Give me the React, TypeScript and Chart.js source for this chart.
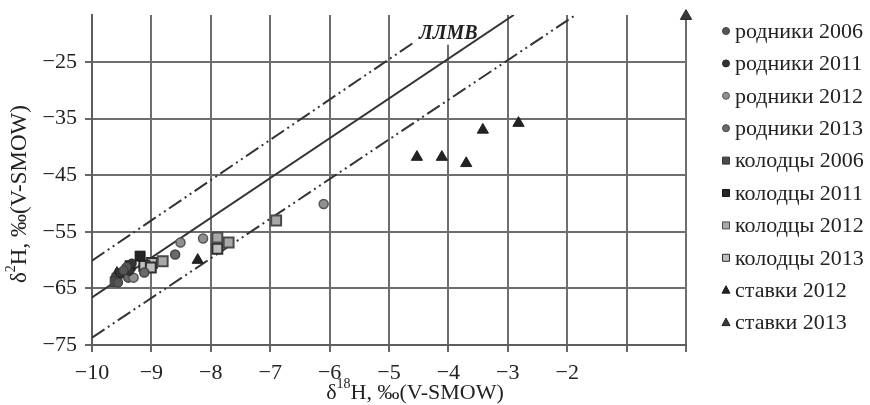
import React, { useEffect, useRef } from 'react';
import { Chart, registerables } from 'chart.js';
Chart.register(...registerables);

// ---- data (δ18O, δ2H) ----
const seriesNames = [
  'родники 2006', 'родники 2011', 'родники 2012', 'родники 2013',
  'колодцы 2006', 'колодцы 2011', 'колодцы 2012', 'колодцы 2013',
  'ставки 2012', 'ставки 2013',
];
const rodniki2006X = [-9.42, -9.47, -9.56];
const rodniki2006Y = [-61.2, -61.8, -64.0];
const rodniki2011X = [-9.37, -9.53, -9.33];
const rodniki2011Y = [-61.9, -62.3, -60.6];
const rodniki2012X = [-8.51, -8.13, -6.1, -9.3];
const rodniki2012Y = [-56.9, -56.2, -50.1, -63.1];
const rodniki2013X = [-8.6, -9.12, -9.39];
const rodniki2013Y = [-59.0, -62.2, -63.1];
const kolodtsy2006X = [-9.58, -9.61];
const kolodtsy2006Y = [-63.2, -63.8];
const kolodtsy2011X = [-9.19, -9.36];
const kolodtsy2011Y = [-59.3, -61.0];
const kolodtsy2012X = [-6.9, -7.89, -7.7, -8.81];
const kolodtsy2012Y = [-53.0, -56.0, -56.9, -60.2];
const kolodtsy2013X = [-7.89, -8.99, -9.12, -9.01];
const kolodtsy2013Y = [-58.0, -60.5, -61.0, -61.3];
const stavki2012X = [-4.53, -4.11, -3.7, -3.42, -2.82, -8.22];
const stavki2012Y = [-41.8, -41.8, -42.9, -37.0, -35.8, -60.0];
const stavki2013X = [0, -9.58];
const stavki2013Y = [-16.9, -62.3];

// lines: local meteoric water line (ЛЛМВ) and its bounds
const lmwlX = [-10, -2.9];
const lmwlY = [-66.6, -16.7];
const upperX = [-10, -3.9];
const upperY = [-60.1, -16.7];
const lowerX = [-10, -1.86];
const lowerY = [-73.7, -16.7];

const xMin = -10;
const xMax = 0;
const yMin = -75;
const yMax = -16.7;
const yTicks = [-75, -65, -55, -45, -35, -25];
const xLabelMax = -2;
const lmwlLabel = 'ЛЛМВ';
const lmwlLabelAt = [-4.0, -20.0];

const FONT = "'Liberation Serif', 'Times New Roman', serif";

const pts = (xs: number[], ys: number[]) => xs.map((x, i) => ({ x, y: ys[i] }));
const fmt = (v: number) => (v < 0 ? '\u2212' + Math.abs(v) : String(v));

const styles = [
  { shape: 'circle', r: 4.5, fill: '#555555', border: '#3c3c3c', bw: 1 },
  { shape: 'circle', r: 4.5, fill: '#333333', border: '#222222', bw: 1 },
  { shape: 'circle', r: 4.5, fill: '#8f8f8f', border: '#555555', bw: 1.5 },
  { shape: 'circle', r: 4.5, fill: '#6a6a6a', border: '#444444', bw: 1.5 },
  { shape: 'rect', r: 7, fill: '#4a4a4a', border: '#383838', bw: 1 },
  { shape: 'rect', r: 7, fill: '#262626', border: '#151515', bw: 1 },
  { shape: 'rect', r: 7, fill: '#a8a8a8', border: '#4a4a4a', bw: 2 },
  { shape: 'rect', r: 7, fill: '#bdbdbd', border: '#2e2e2e', bw: 2 },
  { shape: 'triangle', r: 6.5, fill: '#222222', border: '#222222', bw: 1 },
  { shape: 'triangle', r: 6.5, fill: '#3a3a3a', border: '#222222', bw: 1 },
];

const seriesX = [rodniki2006X, rodniki2011X, rodniki2012X, rodniki2013X, kolodtsy2006X, kolodtsy2011X, kolodtsy2012X, kolodtsy2013X, stavki2012X, stavki2013X];
const seriesY = [rodniki2006Y, rodniki2011Y, rodniki2012Y, rodniki2013Y, kolodtsy2006Y, kolodtsy2011Y, kolodtsy2012Y, kolodtsy2013Y, stavki2012Y, stavki2013Y];

const UPPER_INDEX = 11;
const DASH = [15, 4, 2, 4, 2, 4];

function drawRich(ctx: CanvasRenderingContext2D, parts: { t: string; sup?: boolean }[], cx: number, cy: number, size: number) {
  const supSize = Math.round(size * 0.62);
  let total = 0;
  const widths = parts.map((p) => {
    ctx.font = `${p.sup ? supSize : size}px ${FONT}`;
    const w = ctx.measureText(p.t).width;
    total += w;
    return w;
  });
  let x = cx - total / 2;
  parts.forEach((p, i) => {
    ctx.font = `${p.sup ? supSize : size}px ${FONT}`;
    ctx.fillText(p.t, x, p.sup ? cy - size * 0.38 : cy);
    x += widths[i];
  });
}

const customPlugin = {
  id: 'customDecor',
  afterDatasetDraw(chart: any, args: any) {
    if (args.index !== UPPER_INDEX) return;
    const ctx: CanvasRenderingContext2D = chart.ctx;
    const xs = chart.scales.x;
    const ys = chart.scales.y;
    const px = xs.getPixelForValue(lmwlLabelAt[0]);
    const py = ys.getPixelForValue(lmwlLabelAt[1]);
    ctx.save();
    ctx.font = `italic bold 20px ${FONT}`;
    const w = ctx.measureText(lmwlLabel).width;
    ctx.fillStyle = '#ffffff';
    ctx.fillRect(px - w / 2 - 4, chart.chartArea.top - 1, w + 8, py - chart.chartArea.top + 12);
    ctx.fillStyle = '#222222';
    ctx.textAlign = 'center';
    ctx.textBaseline = 'middle';
    ctx.fillText(lmwlLabel, px, py);
    ctx.restore();
  },
  afterDraw(chart: any) {
    const ctx: CanvasRenderingContext2D = chart.ctx;
    const area = chart.chartArea;
    ctx.save();
    // legend
    const lx = area.right + 40;
    seriesNames.forEach((name, i) => {
      const y = 31 + i * 32.4;
      const s = styles[i];
      ctx.fillStyle = s.fill;
      ctx.strokeStyle = s.border;
      ctx.lineWidth = 1;
      ctx.beginPath();
      if (s.shape === 'circle') {
        ctx.arc(lx, y, 3.5, 0, Math.PI * 2);
      } else if (s.shape === 'rect') {
        ctx.rect(lx - 3.5, y - 3.5, 7, 7);
      } else {
        ctx.moveTo(lx, y - 4.5);
        ctx.lineTo(lx + 4, y + 3);
        ctx.lineTo(lx - 4, y + 3);
        ctx.closePath();
      }
      ctx.fill();
      ctx.stroke();
      ctx.fillStyle = '#222222';
      ctx.font = `22px ${FONT}`;
      ctx.textAlign = 'left';
      ctx.textBaseline = 'middle';
      ctx.fillText(name, lx + 9, y + 1);
    });
    // axis titles
    ctx.fillStyle = '#222222';
    ctx.textAlign = 'left';
    ctx.textBaseline = 'middle';
    drawRich(ctx, [{ t: 'δ' }, { t: '18', sup: true }, { t: 'H, ‰(V-SMOW)' }], 415, 393, 22);
    ctx.translate(20, 194);
    ctx.rotate(-Math.PI / 2);
    drawRich(ctx, [{ t: 'δ' }, { t: '2', sup: true }, { t: 'H, ‰(V-SMOW)' }], 0, 0, 23);
    ctx.restore();
  },
};

export default function App() {
  const ref = useRef<HTMLCanvasElement>(null);
  useEffect(() => {
    if (!ref.current) return;
    const pointSets = seriesNames.map((name, i) => ({
      type: 'scatter' as const,
      label: name,
      data: pts(seriesX[i], seriesY[i]),
      pointStyle: styles[i].shape,
      pointRadius: styles[i].r,
      backgroundColor: styles[i].fill,
      borderColor: styles[i].border,
      borderWidth: styles[i].bw,
      clip: false as any,
    }));
    const lineSets = [
      { label: 'ЛЛМВ', data: pts(lmwlX, lmwlY), dash: [] as number[] },
      { label: 'upper', data: pts(upperX, upperY), dash: DASH },
      { label: 'lower', data: pts(lowerX, lowerY), dash: DASH },
    ].map((l) => ({
      type: 'scatter' as const,
      label: l.label,
      data: l.data,
      showLine: true,
      pointRadius: 0,
      borderColor: '#333333',
      borderWidth: 2,
      borderDash: l.dash,
      backgroundColor: '#333333',
    }));
    const chart = new Chart(ref.current, {
      type: 'scatter',
      data: { datasets: [...pointSets, ...lineSets] as any },
      options: {
        animation: false,
        responsive: false,
        events: [],
        layout: { padding: { top: 15, right: 184, left: 0, bottom: 0 } },
        plugins: { legend: { display: false }, tooltip: { enabled: false } },
        scales: {
          x: {
            type: 'linear',
            min: xMin,
            max: xMax,
            ticks: {
              stepSize: 1,
              autoSkip: false,
              maxRotation: 0,
              padding: 8,
              color: '#222222',
              font: { family: FONT, size: 22 },
              callback: (v: any) => (Number(v) > xLabelMax ? '' : fmt(Number(v))),
            },
            grid: { color: '#6e6e6e', lineWidth: 2, tickLength: 7, tickColor: '#666666' },
            border: { color: '#5e5e5e', width: 2 },
            afterFit: (s: any) => {
              s.height = 60;
              s.paddingLeft = 0;
              s.paddingRight = 0;
            },
          },
          y: {
            type: 'linear',
            min: yMin,
            max: yMax,
            afterBuildTicks: (s: any) => {
              s.ticks = yTicks.map((v) => ({ value: v }));
            },
            ticks: {
              autoSkip: false,
              padding: 8,
              color: '#222222',
              font: { family: FONT, size: 22 },
              callback: (v: any) => fmt(Number(v)),
            },
            grid: { color: '#6e6e6e', lineWidth: 2, tickLength: 7, tickColor: '#666666' },
            border: { color: '#5e5e5e', width: 2 },
            afterFit: (s: any) => {
              s.width = 92;
              s.paddingTop = 0;
              s.paddingBottom = 0;
            },
          },
        },
      },
      plugins: [customPlugin as any],
    });
    return () => chart.destroy();
  }, []);
  return (
    <div style={{ position: 'absolute', left: 0, top: 0, width: 870, height: 405, background: '#fff' }}>
      <canvas ref={ref} width={870} height={405} style={{ display: 'block' }} />
    </div>
  );
}
